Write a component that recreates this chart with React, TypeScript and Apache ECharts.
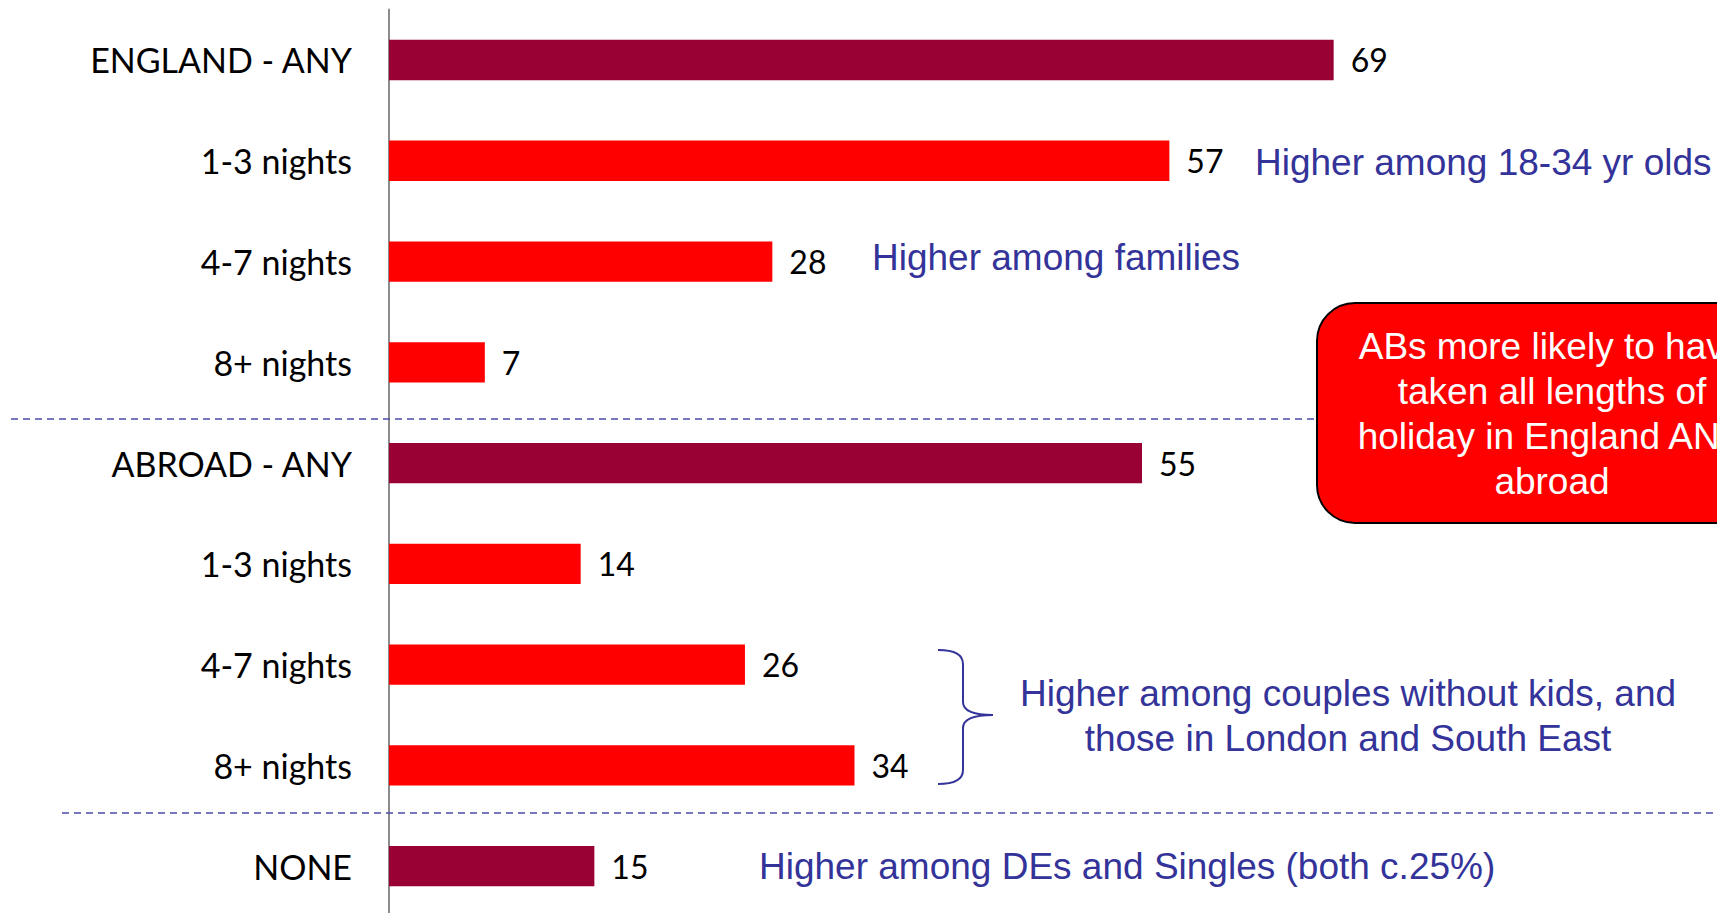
import React, { useEffect, useRef } from "react";
import * as echarts from "echarts";

const categories = [
  "ENGLAND - ANY",
  "1-3 nights",
  "4-7 nights",
  "8+ nights",
  "ABROAD - ANY",
  "1-3 nights ",
  "4-7 nights ",
  "8+ nights ",
  "NONE",
];
const values = [69, 57, 28, 7, 55, 14, 26, 34, 15];
const isTotal = [true, false, false, false, true, false, false, false, true];

const DARK = "#990033";
const RED = "#FF0000";
const BLUE = "#333399";

let registered = false;
function registerBracket() {
  if (registered) return;
  registered = true;
  const d =
    "M938,650 Q963,650 963,664 L963,702 Q963,715 993,715 Q963,715 963,728 L963,770 Q963,784 938,784";
  echarts.graphic.registerShape("bracket", echarts.graphic.extendPath(d, {}) as any);
}

export default function App() {
  const ref = useRef<HTMLDivElement>(null);
  useEffect(() => {
    if (!ref.current) return;
    registerBracket();
    const chart = echarts.init(ref.current, undefined, { renderer: "svg" });
    const annFont = { fontFamily: "'Liberation Sans', Arial, sans-serif", fontSize: 37 };
    chart.setOption({
      animation: false,
      backgroundColor: "#ffffff",
      grid: {
        left: 389,
        top: 9.6,
        width: 1328,
        height: 907,
        containLabel: false,
        outerBoundsMode: "none",
      },
      xAxis: { type: "value", min: 0, max: 97, show: false, splitLine: { show: false } },
      yAxis: {
        type: "category",
        data: categories,
        inverse: true,
        axisLine: { show: true, lineStyle: { color: "#8c8c8c", width: 2 } },
        axisTick: { show: false },
        axisLabel: {
          margin: 37,
          color: "#000",
          fontFamily: "Lato, 'Open Sans', sans-serif",
          fontSize: 34,
          formatter: (v: string) => v.trim(),
        },
      },
      series: [
        {
          type: "bar",
          barWidth: "40%",
          data: values.map((v, i) => ({
            value: v,
            itemStyle: { color: isTotal[i] ? DARK : RED },
          })),
          label: {
            show: true,
            position: "right",
            distance: 17,
            color: "#000",
            fontFamily: "Lato, 'Open Sans', sans-serif",
            fontSize: 32,
          },
        },
      ],
      graphic: [
        {
          type: "line",
          shape: { x1: 11, y1: 419, x2: 1717, y2: 419 },
          style: { stroke: "#4b4bab", lineWidth: 1.5, lineDash: [7, 5] },
          z: 10,
        },
        {
          type: "line",
          shape: { x1: 62, y1: 813, x2: 1717, y2: 813 },
          style: { stroke: "#4b4bab", lineWidth: 1.5, lineDash: [7, 5] },
          z: 10,
        },
        {
          type: "rect",
          shape: { x: 1317, y: 303, width: 470, height: 220, r: 38 },
          style: { fill: RED, stroke: "#000", lineWidth: 2 },
          z: 11,
        },
        {
          type: "text",
          x: 1552,
          y: 414,
          z: 12,
          style: {
            text: "ABs more likely to have\ntaken all lengths of\nholiday in England AND\nabroad",
            fill: "#ffffff",
            textAlign: "center",
            textVerticalAlign: "middle",
            lineHeight: 45,
            ...annFont,
          },
        },
        {
          type: "text",
          x: 1255,
          y: 162,
          z: 12,
          style: {
            text: "Higher among 18-34 yr olds",
            fill: BLUE,
            textAlign: "left",
            textVerticalAlign: "middle",
            ...annFont,
          },
        },
        {
          type: "text",
          x: 872,
          y: 257,
          z: 12,
          style: {
            text: "Higher among families",
            fill: BLUE,
            textAlign: "left",
            textVerticalAlign: "middle",
            ...annFont,
          },
        },
        {
          type: "bracket",
          x: 0,
          y: 0,
          z: 12,
          style: { fill: "none", stroke: BLUE, lineWidth: 2 },
        },
        {
          type: "text",
          x: 1348,
          y: 716,
          z: 12,
          style: {
            text: "Higher among couples without kids, and\nthose in London and South East",
            fill: BLUE,
            textAlign: "center",
            textVerticalAlign: "middle",
            lineHeight: 45,
            ...annFont,
          },
        },
        {
          type: "text",
          x: 759,
          y: 866,
          z: 12,
          style: {
            text: "Higher among DEs and Singles (both c.25%)",
            fill: BLUE,
            textAlign: "left",
            textVerticalAlign: "middle",
            ...annFont,
          },
        },
      ],
    });
    return () => chart.dispose();
  }, []);
  return (
    <div
      ref={ref}
      style={{ position: "fixed", left: 0, top: 0, width: 1717, height: 913, background: "#fff" }}
    />
  );
}
